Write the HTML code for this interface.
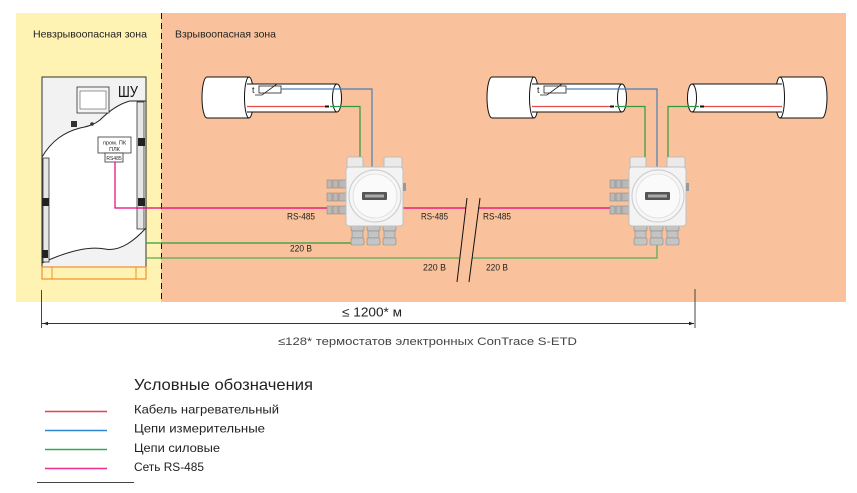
<!DOCTYPE html>
<html><head><meta charset="utf-8"><style>
html,body{margin:0;padding:0;background:#fff;}
svg{display:block;}
text{font-family:"Liberation Sans","DejaVu Sans",sans-serif;}
</style></head><body>
<svg width="857" height="493" viewBox="0 0 857 493" xmlns="http://www.w3.org/2000/svg">
<defs>
<g id="pipe">
  <path d="M207,77 L249,77 L249,118 L207,118 A5,20.5 0 0 1 207,77 Z" fill="#fff" stroke="#111" stroke-width="1"/>
  <ellipse cx="249" cy="97.5" rx="4.5" ry="20.5" fill="#fff" stroke="#111" stroke-width="1"/>
  <rect x="249" y="84" width="88" height="28" fill="#fff"/>
  <line x1="247" y1="84" x2="337" y2="84" stroke="#111" stroke-width="1"/>
  <line x1="247" y1="112" x2="337" y2="112" stroke="#111" stroke-width="1"/>
  <ellipse cx="337" cy="98" rx="4.5" ry="14" fill="#fff" stroke="#111" stroke-width="1"/>
  <line x1="247" y1="106.5" x2="326" y2="106.5" stroke="#e84a4a" stroke-width="1.2"/>
  <rect x="325" y="105.5" width="4" height="2" fill="#111"/>
</g>
<g id="jbox">
  <rect x="347" y="157" width="16" height="12" rx="2" fill="#eaeaea" stroke="#b5b5b5" stroke-width="0.8"/>
  <rect x="384" y="157" width="18" height="12" rx="2" fill="#eaeaea" stroke="#b5b5b5" stroke-width="0.8"/>
  <g fill="#b9b9b9" stroke="#8a8a8a" stroke-width="0.6">
    <rect x="327" y="180" width="5" height="8"/><rect x="333" y="180" width="5" height="8"/><rect x="339" y="180" width="7" height="8"/>
    <rect x="327" y="193" width="5" height="8"/><rect x="333" y="193" width="5" height="8"/><rect x="339" y="193" width="7" height="8"/>
    <rect x="327" y="206" width="5" height="8"/><rect x="333" y="206" width="5" height="8"/><rect x="339" y="206" width="7" height="8"/>
  </g>
  <g fill="#c4c4c4" stroke="#8a8a8a" stroke-width="0.6">
    <rect x="351" y="225" width="13" height="6" rx="1.5"/><rect x="352" y="231" width="11" height="7"/><rect x="351" y="238" width="13" height="7" rx="1.5"/>
    <rect x="367" y="225" width="13" height="6" rx="1.5"/><rect x="368" y="231" width="11" height="7"/><rect x="367" y="238" width="13" height="7" rx="1.5"/>
    <rect x="383" y="225" width="13" height="6" rx="1.5"/><rect x="384" y="231" width="11" height="7"/><rect x="383" y="238" width="13" height="7" rx="1.5"/>
  </g>
  <rect x="346" y="167" width="57" height="59" rx="3" fill="#f3f3f3" stroke="#c0c0c0" stroke-width="1"/>
  <circle cx="375" cy="196" r="26" fill="#f6f6f6" stroke="#cfcfcf" stroke-width="1.2"/>
  <circle cx="375" cy="196" r="22" fill="#fafafa" stroke="#dedede" stroke-width="0.8"/>
  <rect x="362" y="192" width="25" height="8" rx="1" fill="#555"/>
  <rect x="365" y="194.5" width="19" height="3" fill="#aaa"/>
  <rect x="403" y="183" width="3" height="8" fill="#999"/>
</g>
</defs>

<rect x="16" y="13" width="145" height="289" fill="#fef3b2"/>
<rect x="161" y="13" width="685" height="289" fill="#f9c29c"/>
<line x1="161.5" y1="13" x2="161.5" y2="302" stroke="#111" stroke-width="1" stroke-dasharray="6,4"/>
<text x="33" y="37.5" font-size="10.5" fill="#222" textLength="114" lengthAdjust="spacingAndGlyphs">Невзрывоопасная зона</text>
<text x="175" y="37.5" font-size="10.5" fill="#222" textLength="101" lengthAdjust="spacingAndGlyphs">Взрывоопасная зона</text>

<rect x="42" y="77" width="104" height="190" fill="#f2f2f2" stroke="#333" stroke-width="1"/>
<path d="M42,157 C52,140 65,132 80,128 C90,126 95,124 100,120 C108,112 118,104 130,101 L146,101 L146,228 C135,240 120,252 105,249 C90,246 70,250 42,263 Z" fill="#fff" stroke="#222" stroke-width="1"/>
<rect x="137" y="102" width="7" height="127" fill="#e6e6e6" stroke="#333" stroke-width="0.8"/>
<rect x="43" y="158" width="6" height="104" fill="#e6e6e6" stroke="#333" stroke-width="0.8"/>
<rect x="138" y="138" width="7" height="8" fill="#222"/>
<rect x="138" y="198" width="7" height="8" fill="#222"/>
<rect x="42" y="198" width="7" height="8" fill="#222"/>
<rect x="42" y="250" width="6" height="8" fill="#222"/>
<rect x="77" y="87" width="32" height="26" fill="#f4f4f4" stroke="#333" stroke-width="0.8"/>
<rect x="80" y="91" width="26" height="18" fill="#fff" stroke="#555" stroke-width="0.6"/>
<rect x="71" y="121" width="6" height="6" fill="#333"/>
<circle cx="92" cy="124" r="1.8" fill="#333"/>
<text x="118" y="97" font-size="16" fill="#111" textLength="20" lengthAdjust="spacingAndGlyphs">ШУ</text>
<rect x="98" y="137" width="33" height="16" fill="#fff" stroke="#333" stroke-width="0.8"/>
<text x="114.5" y="144.5" font-size="5.5" fill="#222" text-anchor="middle">пром. ПК</text>
<text x="114.5" y="151" font-size="5.5" fill="#222" text-anchor="middle">ПЛК</text>
<rect x="105" y="153" width="18" height="9" fill="#fff" stroke="#333" stroke-width="0.8"/>
<text x="114" y="160" font-size="5" fill="#222" text-anchor="middle">RS485</text>
<rect x="42" y="267" width="104" height="12" fill="none" stroke="#f0902a" stroke-width="1.2"/>
<line x1="52" y1="267" x2="52" y2="279" stroke="#f0902a" stroke-width="1"/>
<line x1="136" y1="267" x2="136" y2="279" stroke="#f0902a" stroke-width="1"/>

<use href="#pipe"/>
<use href="#pipe" transform="translate(285,0)"/>
<use href="#pipe" transform="translate(1029,0) scale(-1,1)"/>

<g stroke="#222" stroke-width="0.8" fill="#fff">
  <rect x="259" y="86" width="22" height="7"/>
  <polyline points="255,95 262,95 277,84" fill="none"/>
  <rect x="544" y="86" width="22" height="7"/>
  <polyline points="540,95 547,95 562,84" fill="none"/>
</g>
<text x="252" y="93" font-size="9" fill="#222">t</text>
<text x="537" y="93" font-size="9" fill="#222">t</text>

<polyline points="281,89 372,89 372,168" fill="none" stroke="#4a7fb5" stroke-width="1.2"/>
<polyline points="566,89 657,89 657,168" fill="none" stroke="#4a7fb5" stroke-width="1.2"/>
<polyline points="330,106.5 360,106.5 360,159" fill="none" stroke="#2f9a3f" stroke-width="1.2"/>
<polyline points="615,106.5 645,106.5 645,159" fill="none" stroke="#2f9a3f" stroke-width="1.2"/>
<polyline points="699,106.5 668,106.5 668,159" fill="none" stroke="#2f9a3f" stroke-width="1.2"/>

<polyline points="115,162 115,208 327,208" fill="none" stroke="#e5007d" stroke-width="1.2"/>
<line x1="403" y1="208" x2="466" y2="208" stroke="#e5007d" stroke-width="1.2"/>
<line x1="478" y1="208" x2="611" y2="208" stroke="#e5007d" stroke-width="1.2"/>
<line x1="146" y1="243" x2="351" y2="243" stroke="#2f9a3f" stroke-width="1.2"/>
<line x1="146" y1="258" x2="459" y2="258" stroke="#4fae55" stroke-width="1.2"/>
<polyline points="472,258 657,258 657,244" fill="none" stroke="#4fae55" stroke-width="1.2"/>

<use href="#jbox"/>
<use href="#jbox" transform="translate(283,0)"/>

<line x1="467" y1="198" x2="457" y2="282" stroke="#111" stroke-width="1"/>
<line x1="480" y1="198" x2="469" y2="282" stroke="#111" stroke-width="1"/>

<g font-size="9" fill="#222">
<text x="287" y="219.5" textLength="28" lengthAdjust="spacingAndGlyphs">RS-485</text>
<text x="421" y="219.5" textLength="27" lengthAdjust="spacingAndGlyphs">RS-485</text>
<text x="483" y="219.5" textLength="28" lengthAdjust="spacingAndGlyphs">RS-485</text>
<text x="290" y="251.5" textLength="22" lengthAdjust="spacingAndGlyphs">220 В</text>
<text x="423" y="270.5" textLength="23" lengthAdjust="spacingAndGlyphs">220 В</text>
<text x="486" y="270.5" textLength="22" lengthAdjust="spacingAndGlyphs">220 В</text>
</g>

<line x1="41.5" y1="290" x2="41.5" y2="328" stroke="#444" stroke-width="1"/>
<line x1="695" y1="289" x2="695" y2="328" stroke="#444" stroke-width="1"/>
<line x1="42" y1="323.5" x2="694" y2="323.5" stroke="#333" stroke-width="1"/>
<polygon points="43,323.5 48,321.8 48,325.2" fill="#222"/>
<polygon points="694,323.5 689,321.8 689,325.2" fill="#222"/>
<text x="342" y="316.5" font-size="13" fill="#222" textLength="60" lengthAdjust="spacingAndGlyphs">≤ 1200* м</text>
<text x="278" y="345" font-size="11" fill="#444" textLength="299" lengthAdjust="spacingAndGlyphs">≤128* термостатов электронных ConTrace S-ETD</text>

<text x="134" y="390" font-size="16" fill="#222" textLength="179" lengthAdjust="spacingAndGlyphs">Условные обозначения</text>
<g font-size="12" fill="#222">
<text x="134" y="413.5" textLength="145" lengthAdjust="spacingAndGlyphs">Кабель нагревательный</text>
<text x="134" y="432.5" textLength="131" lengthAdjust="spacingAndGlyphs">Цепи измерительные</text>
<text x="134" y="452" textLength="86" lengthAdjust="spacingAndGlyphs">Цепи силовые</text>
<text x="134" y="471" textLength="70" lengthAdjust="spacingAndGlyphs">Сеть RS-485</text>
</g>
<line x1="45" y1="411.5" x2="107" y2="411.5" stroke="#e8404e" stroke-width="1.4"/>
<line x1="45" y1="430.5" x2="107" y2="430.5" stroke="#2f86d4" stroke-width="1.4"/>
<line x1="45" y1="449.5" x2="107" y2="449.5" stroke="#2eaa50" stroke-width="1.4"/>
<line x1="45" y1="468.5" x2="107" y2="468.5" stroke="#ee2f90" stroke-width="1.4"/>
<line x1="37" y1="482.5" x2="134" y2="482.5" stroke="#444" stroke-width="1"/>
</svg>
</body></html>
